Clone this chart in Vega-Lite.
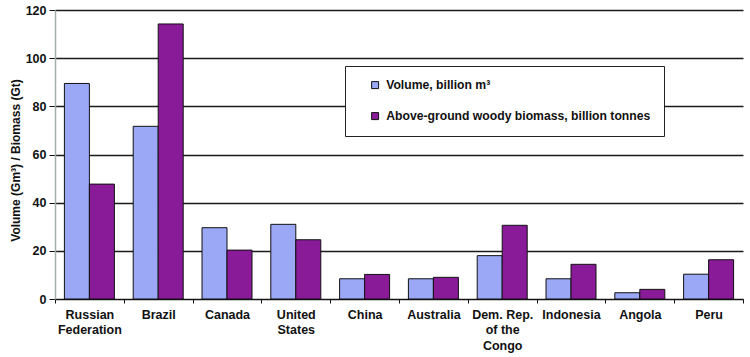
{
  "$schema": "https://vega.github.io/schema/vega-lite/v6.json",
  "width": 688,
  "height": 289,
  "autosize": {"type": "none"},
  "padding": {"left": 55, "top": 10, "right": 7, "bottom": 58},
  "background": "white",
  "config": {
    "font": "Liberation Sans",
    "view": {"stroke": null}
  },
  "data": {
    "values": [
      {"country": "Russian|Federation", "series": "Volume, billion m³", "value": 89.5},
      {"country": "Russian|Federation", "series": "Above-ground woody biomass, billion tonnes", "value": 47.7},
      {"country": "Brazil", "series": "Volume, billion m³", "value": 71.7},
      {"country": "Brazil", "series": "Above-ground woody biomass, billion tonnes", "value": 114.2},
      {"country": "Canada", "series": "Volume, billion m³", "value": 29.6},
      {"country": "Canada", "series": "Above-ground woody biomass, billion tonnes", "value": 20.3},
      {"country": "United|States", "series": "Volume, billion m³", "value": 31.0},
      {"country": "United|States", "series": "Above-ground woody biomass, billion tonnes", "value": 24.6},
      {"country": "China", "series": "Volume, billion m³", "value": 8.4},
      {"country": "China", "series": "Above-ground woody biomass, billion tonnes", "value": 10.2},
      {"country": "Australia", "series": "Volume, billion m³", "value": 8.4},
      {"country": "Australia", "series": "Above-ground woody biomass, billion tonnes", "value": 9.0},
      {"country": "Dem. Rep.|of the|Congo", "series": "Volume, billion m³", "value": 18.0},
      {"country": "Dem. Rep.|of the|Congo", "series": "Above-ground woody biomass, billion tonnes", "value": 30.6},
      {"country": "Indonesia", "series": "Volume, billion m³", "value": 8.4},
      {"country": "Indonesia", "series": "Above-ground woody biomass, billion tonnes", "value": 14.4},
      {"country": "Angola", "series": "Volume, billion m³", "value": 2.6},
      {"country": "Angola", "series": "Above-ground woody biomass, billion tonnes", "value": 4.0},
      {"country": "Peru", "series": "Volume, billion m³", "value": 10.3},
      {"country": "Peru", "series": "Above-ground woody biomass, billion tonnes", "value": 16.3}
    ]
  },
  "mark": {"type": "bar", "stroke": "#111", "strokeWidth": 1},
  "encoding": {
    "x": {
      "field": "country",
      "type": "nominal",
      "sort": null,
      "scale": {"paddingInner": 0, "paddingOuter": 0},
      "axis": {
        "title": null,
        "labelAngle": 0,
        "labelExpr": "split(datum.label, '|')",
        "labelFont": "Liberation Sans",
        "labelFontWeight": "bold",
        "labelFontSize": 12.5,
        "labelColor": "#111",
        "labelLineHeight": 15.5,
        "labelPadding": 5,
        "labelLimit": 0,
        "tickBand": "extent",
        "tickSize": 4,
        "tickColor": "#111",
        "domainColor": "#111",
        "domainWidth": 1.2
      }
    },
    "xOffset": {
      "field": "series",
      "sort": ["Volume, billion m³", "Above-ground woody biomass, billion tonnes"],
      "scale": {"paddingInner": 0, "paddingOuter": 0.376}
    },
    "y": {
      "field": "value",
      "type": "quantitative",
      "scale": {"domain": [0, 120], "nice": false},
      "axis": {
        "title": "Volume (Gm³) / Biomass (Gt)",
        "titleFont": "Liberation Sans",
        "titleFontWeight": "bold",
        "titleFontSize": 12,
        "titleColor": "#111",
        "titleX": -40,
        "titleY": 150,
        "titleAlign": "center",
        "titleBaseline": "middle",
        "titleAngle": -90,
        "values": [0, 20, 40, 60, 80, 100, 120],
        "labelFont": "Liberation Sans",
        "labelFontWeight": "bold",
        "labelFontSize": 12.5,
        "labelColor": "#111",
        "labelPadding": 3,
        "tickSize": 6,
        "tickColor": "#111",
        "domainColor": "#a3b0aa",
        "domainWidth": 1.5,
        "grid": true,
        "gridColor": "#1a1a1a",
        "gridWidth": 1.3
      }
    },
    "fill": {
      "field": "series",
      "type": "nominal",
      "sort": ["Volume, billion m³", "Above-ground woody biomass, billion tonnes"],
      "scale": {
        "domain": ["Volume, billion m³", "Above-ground woody biomass, billion tonnes"],
        "range": ["#9aa8f5", "#8a1b98"]
      },
      "legend": {
        "title": null,
        "orient": "none",
        "legendX": 290,
        "legendY": 56,
        "fillColor": "white",
        "strokeColor": "#222",
        "padding": 13,
        "symbolOffset": 11,
        "symbolType": "square",
        "symbolSize": 49,
        "symbolStrokeColor": "#111",
        "symbolStrokeWidth": 1,
        "labelFont": "Liberation Sans",
        "labelFontWeight": "bold",
        "labelFontSize": 12.2,
        "labelColor": "#111",
        "labelLimit": 0,
        "labelOffset": 5,
        "rowPadding": 18
      }
    }
  }
}
